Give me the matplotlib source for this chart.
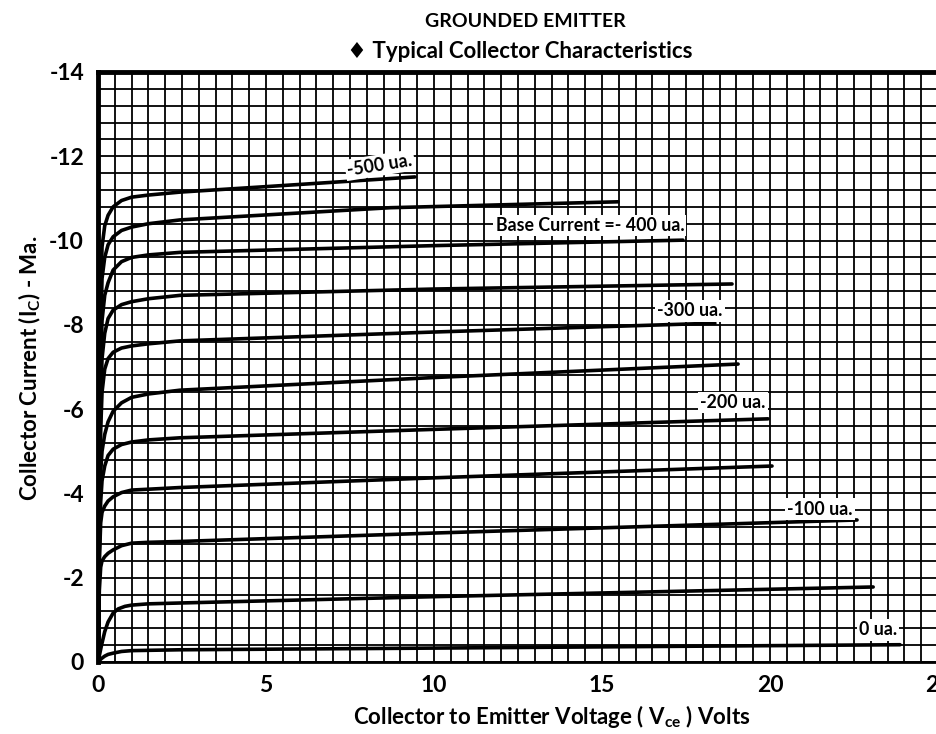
import matplotlib
matplotlib.use("Agg")
import matplotlib.pyplot as plt
import numpy as np
from matplotlib.ticker import MultipleLocator

plt.rcParams['font.family'] = ['Lato', 'DejaVu Sans']

# ---- data: collector current (mA, magnitude; PNP so plotted negative) vs Vce (V)
base_currents = ["-500", "-450", "-400", "-350", "-300", "-250", "-200", "-150", "-100", "-50", "0"]

v_500 = [0, 0.04, 0.08, 0.12, 0.2, 0.3, 0.45, 0.7, 1.0, 1.5, 2.44, 5.0, 9.43]
i_500 = [0, 5.0, 8.6, 9.85, 10.35, 10.6, 10.8, 10.95, 11.03, 11.08, 11.15, 11.28, 11.51]

v_450 = [0, 0.04, 0.08, 0.12, 0.2, 0.3, 0.45, 0.7, 1.0, 1.5, 2.44, 8.7, 15.48]
i_450 = [0, 4.8, 7.9, 9.1, 9.6, 9.9, 10.09, 10.24, 10.32, 10.4, 10.49, 10.78, 10.92]

v_400 = [0, 0.04, 0.08, 0.12, 0.2, 0.3, 0.45, 0.7, 1.0, 1.5, 2.44, 10.0, 17.41]
i_400 = [0, 4.3, 7.0, 8.1, 8.7, 9.0, 9.3, 9.5, 9.6, 9.66, 9.72, 9.88, 10.01]

v_350 = [0, 0.04, 0.08, 0.12, 0.2, 0.3, 0.45, 0.7, 1.0, 1.5, 2.44, 10.0, 18.87]
i_350 = [0, 3.8, 6.2, 7.2, 7.8, 8.15, 8.35, 8.48, 8.55, 8.62, 8.7, 8.85, 8.97]

v_300 = [0, 0.04, 0.08, 0.12, 0.2, 0.3, 0.45, 0.7, 1.0, 1.5, 2.44, 10.0, 18.36]
i_300 = [0, 3.4, 5.5, 6.4, 6.95, 7.2, 7.35, 7.45, 7.5, 7.55, 7.62, 7.83, 8.04]

v_250 = [0, 0.04, 0.08, 0.12, 0.2, 0.3, 0.45, 0.7, 1.0, 1.5, 2.44, 10.0, 19.05]
i_250 = [0, 2.9, 4.5, 5.0, 5.4, 5.7, 5.95, 6.15, 6.28, 6.36, 6.45, 6.75, 7.07]

v_200 = [0, 0.04, 0.08, 0.12, 0.2, 0.3, 0.45, 0.7, 1.0, 1.5, 2.44, 10.0, 19.94]
i_200 = [0, 2.6, 3.8, 4.3, 4.65, 4.9, 5.05, 5.16, 5.22, 5.27, 5.32, 5.52, 5.77]

v_150 = [0, 0.04, 0.08, 0.12, 0.2, 0.3, 0.45, 0.7, 1.0, 1.5, 2.44, 10.0, 20.06]
i_150 = [0, 2.4, 3.3, 3.55, 3.7, 3.82, 3.92, 4.02, 4.08, 4.1, 4.14, 4.37, 4.65]

v_100 = [0, 0.04, 0.08, 0.12, 0.2, 0.3, 0.45, 0.7, 1.0, 1.5, 2.44, 10.0, 22.59]
i_100 = [0, 1.7, 2.25, 2.4, 2.5, 2.58, 2.66, 2.76, 2.82, 2.84, 2.86, 3.06, 3.37]

v_50 = [0, 0.04, 0.1, 0.15, 0.2, 0.3, 0.45, 0.6, 0.8, 1.0, 1.5, 2.44, 10.0, 23.07]
i_50 = [0, 0.15, 0.38, 0.55, 0.72, 0.95, 1.16, 1.26, 1.32, 1.35, 1.38, 1.40, 1.55, 1.78]

v_0 = [0, 0.1, 0.2, 0.3, 0.45, 0.7, 1.0, 2.44, 10.0, 23.87]
i_0 = [0, 0.08, 0.14, 0.18, 0.21, 0.25, 0.27, 0.29, 0.33, 0.41]

curves_v = [v_500, v_450, v_400, v_350, v_300, v_250, v_200, v_150, v_100, v_50, v_0]
curves_i = [i_500, i_450, i_400, i_350, i_300, i_250, i_200, i_150, i_100, i_50, i_0]

# curve labels: text, Vce, Ic, rotation
label_texts = ["-500 ua.", "Base Current =- 400 ua.", "-300 ua.", "-200 ua.", "-100 ua.", "0 ua."]
label_v = [8.39, 14.64, 17.62, 18.90, 21.49, 23.21]
label_i = [-11.79, -10.35, -8.33, -6.15, -3.63, -0.76]
label_rot = [9, 0, 0, 0, 0, 0]

x_ticks = [0, 5, 10, 15, 20, 25]
y_ticks = [0, -2, -4, -6, -8, -10, -12, -14]

# ---- figure
fig = plt.figure(figsize=(9.36, 7.34), dpi=100)
ax = fig.add_axes([98 / 936, 72 / 734, 840 / 936, 590 / 734])

ax.set_xlim(0, 25)
ax.set_ylim(0, -14)

ax.xaxis.set_minor_locator(MultipleLocator(0.5))
ax.yaxis.set_minor_locator(MultipleLocator(0.4))
ax.grid(which='both', color='black', linewidth=1.3, zorder=1)
ax.set_axisbelow(True)

for v, i in zip(curves_v, curves_i):
    ax.plot(v, -np.array(i), color='black', linewidth=2.6, solid_capstyle='round',
            solid_joinstyle='round', zorder=3)

for t, x, y, r in zip(label_texts, label_v, label_i, label_rot):
    ax.text(x, y, t, fontsize=12.8, fontweight='bold', ha='center', va='center',
            rotation=r, zorder=4,
            bbox=dict(facecolor='white', edgecolor='none', pad=1.5))

ax.set_xticks(x_ticks)
ax.set_xticklabels([str(t) for t in x_ticks])
ax.set_yticks(y_ticks)
ax.set_yticklabels([str(t) for t in y_ticks])
ax.tick_params(which='both', length=0)
ax.tick_params(axis='x', pad=9, labelsize=16.5)
ax.tick_params(axis='y', pad=10, labelsize=16.5)
for lab in ax.get_xticklabels() + ax.get_yticklabels():
    lab.set_fontweight('bold')

ax.spines['top'].set_linewidth(3.5)
ax.spines['left'].set_linewidth(3.5)
ax.spines['bottom'].set_linewidth(2.0)
ax.spines['right'].set_visible(False)

ax.set_xlabel("Collector to Emitter Voltage ( V$_{\\mathregular{ce}}$ ) Volts",
              fontsize=16, fontweight='bold')
ax.xaxis.set_label_coords((552 - 98) / 840, -(716 - 662) / 590)
ax.xaxis.label.set_va('center')
ax.set_ylabel("Collector Current (I$_{\\mathregular{C}}$) - Ma.",
              fontsize=16, fontweight='bold')
ax.yaxis.set_label_coords((30 - 98) / 840, (662 - 368) / 590)
ax.yaxis.label.set_va('center')

fig.text(525 / 936, 0.971, "GROUNDED EMITTER", fontsize=14, fontweight='bold',
         ha='center', va='center')
fig.text(0.555, 0.930, "\u2666 Typical Collector Characteristics", fontsize=16,
         fontweight='bold', ha='center', va='center')

fig.savefig("out.png", dpi=100, facecolor='white')
